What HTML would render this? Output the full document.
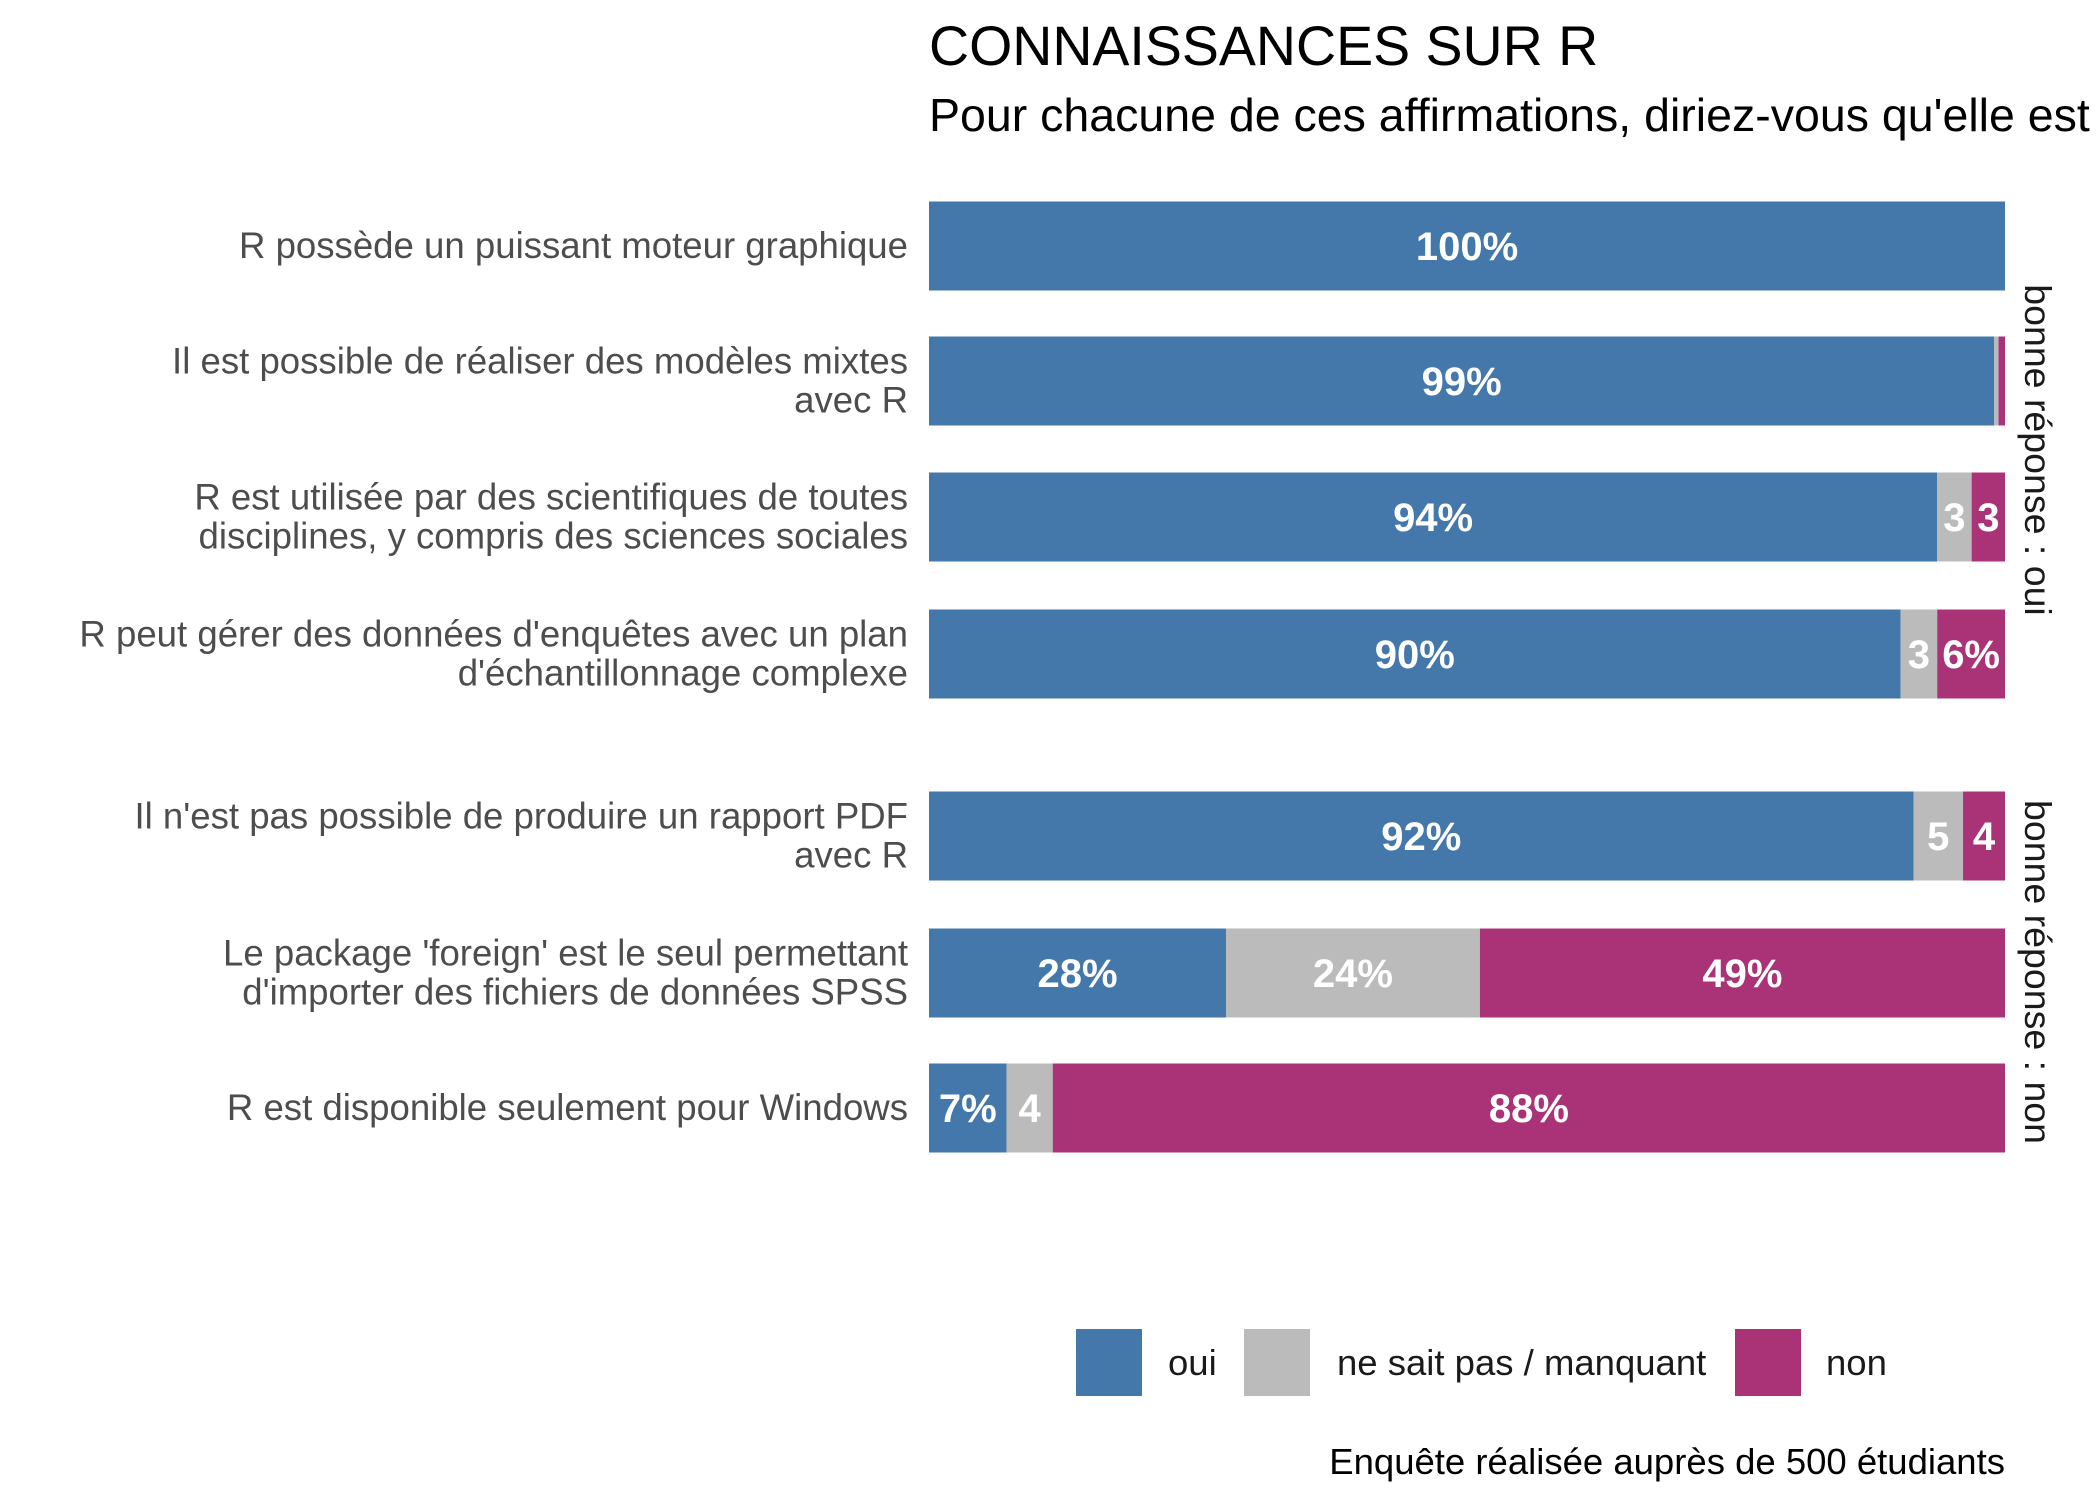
<!DOCTYPE html>
<html><head><meta charset="utf-8"><style>
html,body{margin:0;padding:0;background:#fff;}
svg{display:block;font-family:"Liberation Sans",sans-serif;}
</style></head><body>
<svg id="chart" width="2100" height="1500" viewBox="0 0 2100 1500">
<text x="929" y="65" font-size="55.5" fill="#000">CONNAISSANCES SUR R</text>
<text x="929" y="131" font-size="46.5" fill="#000">Pour chacune de ces affirmations, diriez-vous qu'elle est vraie ou fausse ?</text>
<g id="bars"></g>
<text transform="translate(2025,450) rotate(90)" text-anchor="middle" font-size="37.5" fill="#1a1a1a">bonne réponse : oui</text>
<text transform="translate(2025,972) rotate(90)" text-anchor="middle" font-size="37.5" fill="#1a1a1a">bonne réponse : non</text>
<g>
<rect x="1076" y="1329" width="66" height="67" fill="#4477aa"/>
<text x="1168" y="1375" font-size="36.5" fill="#1a1a1a">oui</text>
<rect x="1244" y="1329" width="66" height="67" fill="#bbbbbb"/>
<text x="1337" y="1375" font-size="36.5" fill="#1a1a1a">ne sait pas / manquant</text>
<rect x="1735" y="1329" width="66" height="67" fill="#aa3377"/>
<text x="1826" y="1375" font-size="36.5" fill="#1a1a1a">non</text>
</g>
<text x="2005" y="1474" text-anchor="end" font-size="36.5" fill="#000">Enquête réalisée auprès de 500 étudiants</text>
</svg>
<script>
const questions = [
 ["R possède un puissant moteur graphique"],
 ["Il est possible de réaliser des modèles mixtes","avec R"],
 ["R est utilisée par des scientifiques de toutes","disciplines, y compris des sciences sociales"],
 ["R peut gérer des données d'enquêtes avec un plan","d'échantillonnage complexe"],
 ["Il n'est pas possible de produire un rapport PDF","avec R"],
 ["Le package 'foreign' est le seul permettant","d'importer des fichiers de données SPSS"],
 ["R est disponible seulement pour Windows"]
];
const oui = [100, 99.0, 93.7, 90.3, 91.5, 27.6, 7.2];
const nsp = [0, 0.4, 3.2, 3.4, 4.6, 23.6, 4.3];
const non = [0, 0.6, 3.1, 6.3, 3.9, 48.8, 88.5];
const ouiLabels = ["100%","99%","94%","90%","92%","28%","7%"];
const nspLabels = ["","","3","3","5","24%","4"];
const nonLabels = ["","","3","6%","4","49%","88%"];
const rowCenters = [246, 381, 517, 654, 836, 973, 1108];
const X0 = 929, X1 = 2005, BH = 89;
function xScale(v){ return X0 + (X1 - X0) * v / 100; }
const NS = "http://www.w3.org/2000/svg";
const g = document.getElementById("bars");
const colors = ["#4477aa", "#bbbbbb", "#aa3377"];
const series = [oui, nsp, non];
const labels = [ouiLabels, nspLabels, nonLabels];
const names = ["oui", "nsp", "non"];
questions.forEach((q, i) => {
  const cy = rowCenters[i];
  const lines = q.length;
  q.forEach((line, j) => {
    const t = document.createElementNS(NS, "text");
    
    
    t.setAttribute("x", 908);
    t.setAttribute("y", cy + 12 + (j - (lines - 1) / 2) * 39);
    t.setAttribute("text-anchor", "end");
    t.setAttribute("font-size", "36.6");
    t.setAttribute("fill", "#4d4d4d");
    t.textContent = line;
    g.appendChild(t);
  });
  let cum = 0;
  series.forEach((s, k) => {
    const v = s[i];
    const xa = xScale(cum), xb = xScale(cum + v);
    cum += v;
    if (v <= 0) return;
    const r = document.createElementNS(NS, "rect");
    
    
    r.setAttribute("x", xa);
    r.setAttribute("y", cy - BH / 2);
    r.setAttribute("width", xb - xa);
    r.setAttribute("height", BH);
    r.setAttribute("fill", colors[k]);
    g.appendChild(r);
    if (labels[k][i]) {
      const t = document.createElementNS(NS, "text");
      
      
      t.setAttribute("x", (xa + xb) / 2);
      t.setAttribute("y", cy + 14);
      t.setAttribute("text-anchor", "middle");
      t.setAttribute("font-size", "40");
      t.setAttribute("font-weight", "bold");
      t.setAttribute("fill", "#ffffff");
      t.textContent = labels[k][i];
      g.appendChild(t);
    }
  });
});
</script>
</body></html>
